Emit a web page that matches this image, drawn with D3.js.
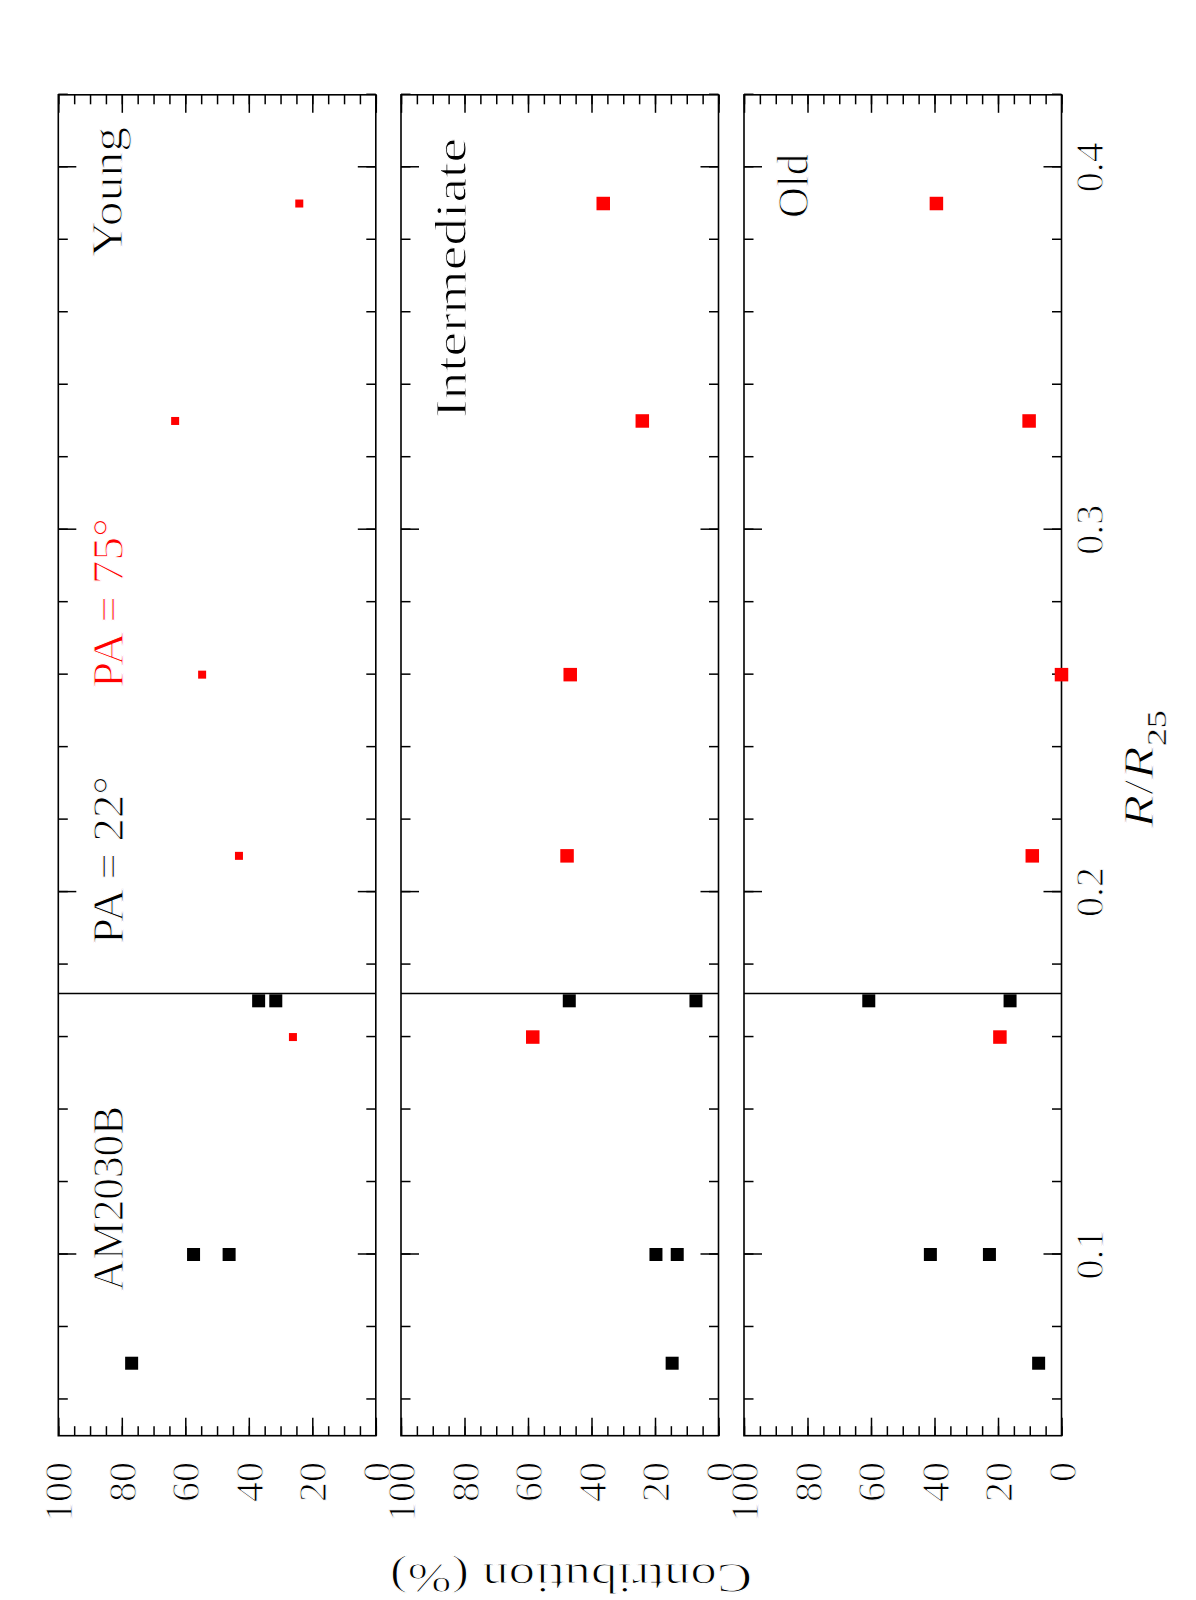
<!DOCTYPE html>
<html lang="en">
<head>
<meta charset="UTF-8">
<title>AM2030B contributions</title>
<style>
  body { margin: 0; background: #fff; }
  text { font-family: "Liberation Serif", "DejaVu Serif", serif; fill: #000; stroke: #fff; stroke-width: 1px; }
  tspan.sub { stroke-width: 0.4px; }
</style>
</head>
<body>
<svg id="chart" width="1196" height="1600"></svg>
<script src="https://cdn.jsdelivr.net/npm/d3@7"></script>
<script>
// data
const panelNames = ["Young", "Intermediate", "Old"];
const blackR = [0.07, 0.10, 0.10, 0.17, 0.17];      // PA = 22 deg
const redR = [0.16, 0.21, 0.26, 0.33, 0.39];         // PA = 75 deg
const blackYoung = [76.9, 57.4, 46.2, 36.9, 31.5];
const blackInter = [14.6, 19.7, 13.0, 47.0, 7.1];
const blackOld = [7.2, 22.7, 41.3, 60.7, 16.2];
const redYoung = [26.1, 43.1, 54.7, 63.2, 24.1];
const redInter = [58.5, 47.7, 46.7, 24.0, 36.3];
const redOld = [19.4, 9.2, 0.0, 10.2, 39.4];
const rTicks = [0.1, 0.2, 0.3, 0.4];
const rTickLabels = ["0.1", "0.2", "0.3", "0.4"];
const cTicks = [100, 80, 60, 40, 20, 0];
const cTickLabels = ["100", "80", "60", "40", "20", "0"];
const separatorR = 0.172;

const blackSets = [blackYoung, blackInter, blackOld];
const redSets = [redYoung, redInter, redOld];

// the plot is drawn in landscape and turned a quarter turn
const svg = d3.select("#chart");
const g = svg.append("g").attr("transform", "translate(0,1600) rotate(-90)");

const x = d3.scaleLinear().domain([0.05, 0.42]).range([164.3, 1505.2]);
const panelH = 317.5;
const panelTop = [58.3, 401, 744];

function ticks(p, axis, tr, vals, size) {
  p.append("g")
    .attr("transform", tr)
    .call(axis.tickValues(vals).tickSize(size).tickSizeOuter(0).tickFormat(""))
    .call(s => s.select(".domain").remove())
    .call(s => s.selectAll("text").remove())
    .call(s => s.selectAll("line").attr("stroke-width", 1.5));
}

panelNames.forEach((name, i) => {
  const top = panelTop[i], bot = top + panelH;
  const y = d3.scaleLinear().domain([0, 100]).range([bot, top]);
  const p = g.append("g");

  p.append("rect")
    .attr("x", x(0.05)).attr("y", top)
    .attr("width", x(0.42) - x(0.05)).attr("height", panelH)
    .attr("fill", "none").attr("stroke", "#000").attr("stroke-width", 1.6);

  ticks(p, d3.axisTop(x), `translate(0,${top})`, x.ticks(20), -9.5);
  ticks(p, d3.axisTop(x), `translate(0,${top})`, rTicks, -18);
  ticks(p, d3.axisBottom(x), `translate(0,${bot})`, x.ticks(20), -9.5);
  ticks(p, d3.axisBottom(x), `translate(0,${bot})`, rTicks, -18);
  ticks(p, d3.axisLeft(y), `translate(${x(0.05)},0)`, y.ticks(20), -9.5);
  ticks(p, d3.axisLeft(y), `translate(${x(0.05)},0)`, cTicks, -18);
  ticks(p, d3.axisRight(y), `translate(${x(0.42)},0)`, y.ticks(20), -9.5);
  ticks(p, d3.axisRight(y), `translate(${x(0.42)},0)`, cTicks, -18);

  p.append("line")
    .attr("x1", x(separatorR)).attr("x2", x(separatorR))
    .attr("y1", top).attr("y2", bot)
    .attr("stroke", "#000").attr("stroke-width", 1.5);

  const bs = 13;
  p.selectAll(".blk").data(blackSets[i]).enter().append("rect")
    .attr("class", "blk")
    .attr("x", (d, k) => x(blackR[k]) - bs / 2)
    .attr("y", d => y(d) - bs / 2)
    .attr("width", bs).attr("height", bs)
    .attr("fill", "#000");

  const rs = i === 0 ? 8 : 13.5;
  p.selectAll(".red").data(redSets[i]).enter().append("rect")
    .attr("class", "red")
    .attr("x", (d, k) => x(redR[k]) - rs / 2)
    .attr("y", d => y(d) - rs / 2)
    .attr("width", rs).attr("height", rs)
    .attr("fill", "#ff0000");

  // contribution tick labels
  p.selectAll(".cl").data(cTicks).enter().append("text")
    .attr("class", "cl")
    .attr("x", 138).attr("y", d => y(d)).attr("dy", "0.35em")
    .attr("text-anchor", "end").attr("font-size", 40)
    .text((d, k) => cTickLabels[k]);

  if (i === 2) {
    p.selectAll(".rl").data(rTicks).enter().append("text")
      .attr("class", "rl")
      .attr("x", d => x(d)).attr("y", bot + 41.5)
      .attr("text-anchor", "middle").attr("font-size", 40)
      .text((d, k) => rTickLabels[k]);
  }
});

function label(txt, X, Y, len, color) {
  g.append("text")
    .attr("x", X).attr("y", Y)
    .attr("font-size", 44)
    .attr("textLength", len).attr("lengthAdjust", "spacingAndGlyphs")
    .style("fill", color || "#000")
    .text(txt);
}
label("AM2030B", 309, 123.3, 185);
label("PA = 22°", 656, 123.3, 168);
label("PA = 75°", 912, 123.3, 170, "#ff0000");
label(panelNames[0], 1343, 122, 130);
label(panelNames[1], 1182, 466, 280);
label(panelNames[2], 1382, 808, 64);

// axis titles
const xt = g.append("text")
  .attr("x", 772).attr("y", 1153)
  .attr("font-size", 42)
  .attr("textLength", 118).attr("lengthAdjust", "spacingAndGlyphs");
xt.append("tspan").style("font-style", "italic").text("R");
xt.append("tspan").text("/");
xt.append("tspan").style("font-style", "italic").text("R");
xt.append("tspan").attr("class", "sub").attr("font-size", 28).attr("dy", 13).text("25");

g.append("text")
  .attr("transform", "translate(36,571) rotate(-90)")
  .attr("text-anchor", "middle")
  .attr("font-size", 42)
  .attr("textLength", 362).attr("lengthAdjust", "spacingAndGlyphs")
  .text("Contribution (%)");
</script>
</body>
</html>
